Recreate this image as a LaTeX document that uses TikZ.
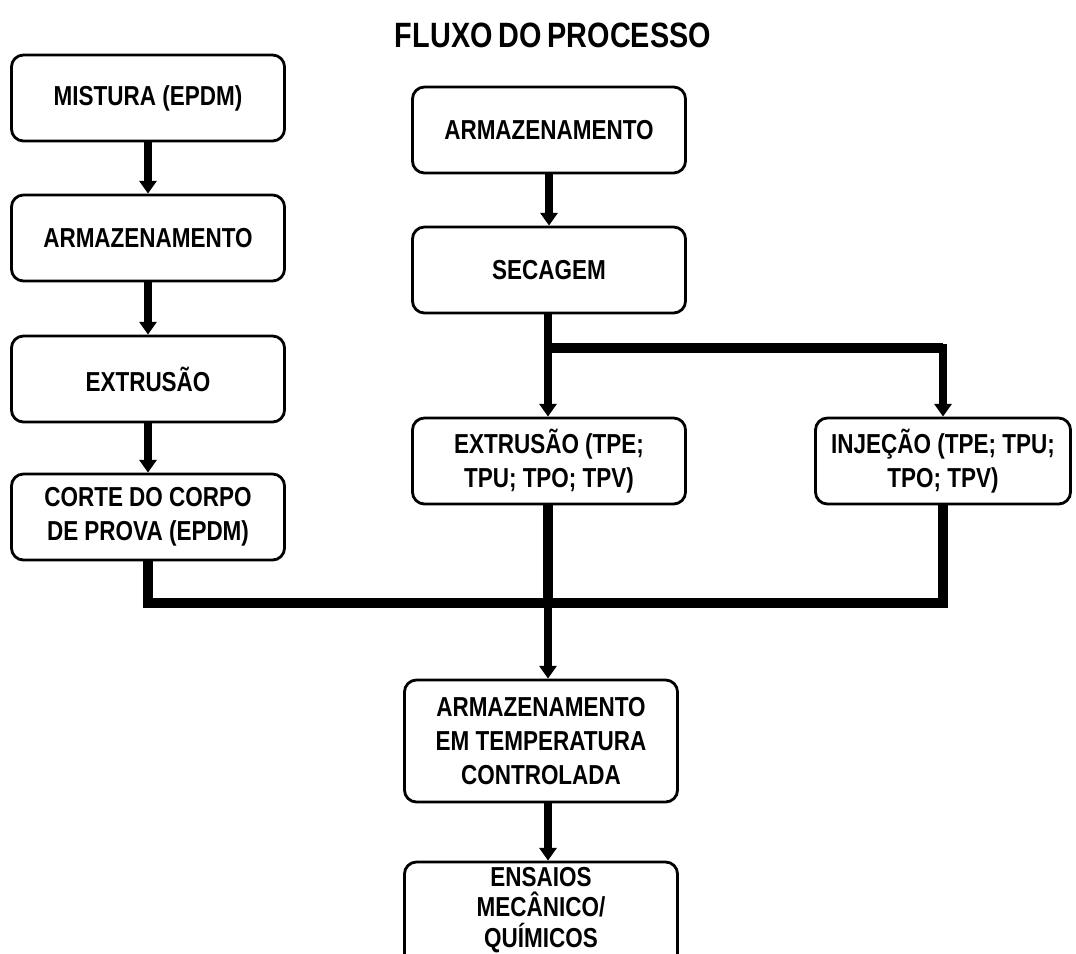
\documentclass[tikz,border=0pt]{standalone}
\usepackage{fontspec}
\setmainfont{Liberation Sans}[FakeStretch=0.82]
\usetikzlibrary{arrows.meta}
\begin{document}
\begin{tikzpicture}[x=0.025cm,y=-0.025cm,
  box/.style={draw,line width=2pt,rounded corners=0.3cm,align=center,
    minimum width=6.825cm,minimum height=2.15cm,inner sep=0pt,
    font=\fontsize{19.5}{24}\selectfont\bfseries},
  thin arrow/.style={line width=5pt,-{Triangle[width=12pt,length=9pt]}},
  thick line/.style={line width=7pt},
  thick arrow/.style={line width=6pt,-{Triangle[width=12pt,length=9pt]}}]
\useasboundingbox (0,0) rectangle (1076,953);
\node[font=\fontsize{25}{28}\selectfont\bfseries] (title) at (553,35) {FLUXO\,DO\,PROCESSO};
% left column
\node[box] (mist) at (148,98) {MISTURA (EPDM)};
\node[box] (arm1) at (148,238) {ARMAZENAMENTO};
\node[box] (ext1) at (148,379) {EXTRUSÃO};
\node[box] (corte) at (148,517) {CORTE DO CORPO\\DE PROVA (EPDM)};
% middle column
\node[box] (arm2) at (549,130) {ARMAZENAMENTO};
\node[box] (sec) at (549,270) {SECAGEM};
\node[box] (ext2) at (549,461) {EXTRUSÃO (TPE;\\TPU; TPO; TPV)};
\node[box,minimum width=6.375cm] (inj) at (943,461) {INJEÇÃO (TPE; TPU;\\TPO; TPV)};
% bottom
\node[box,minimum height=3.05cm] (armT) at (541,741) {ARMAZENAMENTO\\EM TEMPERATURA\\CONTROLADA};
\node[box,minimum height=2.6cm,font=\fontsize{19.5}{21.5}\selectfont\bfseries] (ens) at (541,914) {ENSAIOS\\MECÂNICO/\\QUÍMICOS\\[-12pt]\mbox{}};
% junctions
\coordinate (j1) at (548,348);
\coordinate (j2) at (548,603);
% connectors
\draw[thin arrow] (mist) -- (arm1);
\draw[thin arrow] (arm1) -- (ext1);
\draw[thin arrow] (ext1) -- (corte);
\draw[thin arrow] (arm2) -- (sec);
\draw[thick arrow] (sec.south -| j1) -- (ext2.north -| j1);
\draw[thick line] (j1) -- (inj.north |- j1);
\draw[thick arrow] (j1) -| (inj.north);
\draw[thick line] (corte.south) |- (j2);
\draw[thick line] (inj.south) |- (j2);
\draw[thick line] (ext2.south -| j2) -- (j2);
\draw[thick arrow] (j2) -- (armT.north -| j2);
\draw[thick arrow] (armT.south -| j2) -- (ens.north -| j2);
\end{tikzpicture}
\end{document}
